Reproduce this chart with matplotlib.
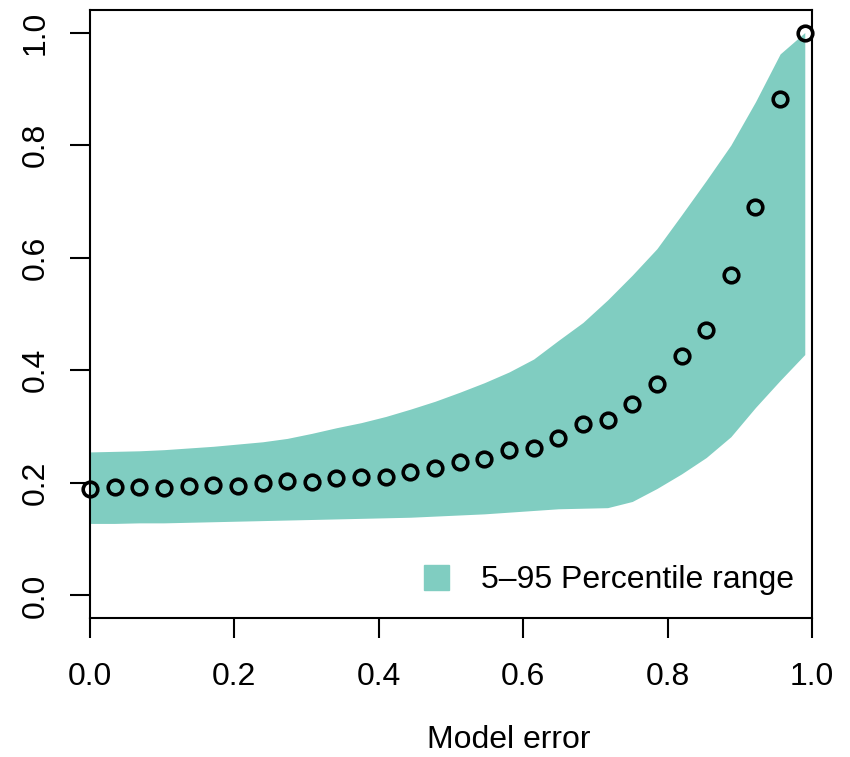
import numpy as np
import matplotlib
matplotlib.use("Agg")
import matplotlib.pyplot as plt
from matplotlib.lines import Line2D

plt.rcParams['font.family'] = ['Liberation Sans', 'DejaVu Sans']
plt.rcParams['font.size'] = 23

# model error grid (30 points from 0 to 0.99)
model_error = np.linspace(0, 0.99, 30)

# observed values (open circles)
observed = [0.190, 0.193, 0.193, 0.191, 0.194, 0.197, 0.195, 0.200, 0.204, 0.202,
            0.208, 0.210, 0.211, 0.220, 0.226, 0.237, 0.242, 0.259, 0.262, 0.279,
            0.304, 0.312, 0.340, 0.375, 0.425, 0.471, 0.569, 0.690, 0.882, 1.000]

# 5th and 95th percentile envelope
pct_low = [0.128, 0.128, 0.129, 0.129, 0.130, 0.131, 0.132, 0.133, 0.134, 0.135,
           0.136, 0.137, 0.138, 0.139, 0.141, 0.143, 0.145, 0.148, 0.151, 0.154,
           0.155, 0.156, 0.167, 0.190, 0.216, 0.245, 0.282, 0.334, 0.382, 0.428]
pct_high = [0.255, 0.256, 0.257, 0.259, 0.262, 0.265, 0.269, 0.273, 0.279, 0.288,
            0.298, 0.307, 0.318, 0.331, 0.345, 0.361, 0.378, 0.397, 0.420, 0.453,
            0.485, 0.525, 0.569, 0.616, 0.676, 0.737, 0.800, 0.877, 0.962, 1.000]

band_col = "#80CDC1"

fig = plt.figure(figsize=(8.5, 7.57), dpi=100)
ax = fig.add_axes([90/850, 1 - 618/757, 722/850, 608/757])

ax.fill_between(model_error, pct_low, pct_high, color=band_col, linewidth=0)
ax.plot(model_error, observed, linestyle='none', marker='o', ms=10.5,
        mfc='none', mec='black', mew=2.6, clip_on=False, zorder=3)

ax.set_xlim(0, 1)
ax.set_ylim(-0.04, 1.04)
ax.set_xticks(np.arange(0, 1.01, 0.2))
ax.set_xticklabels(["0.0", "0.2", "0.4", "0.6", "0.8", "1.0"])
ax.set_yticks(np.arange(0, 1.01, 0.2))
ax.set_yticklabels(["0.0", "0.2", "0.4", "0.6", "0.8", "1.0"], rotation=90, va='center')

for s in ax.spines.values():
    s.set_linewidth(1.5)
ax.tick_params(direction='out', length=14.5, width=1.5, pad=17)
ax.tick_params(axis='y', pad=14)

ax.set_xlabel("Model error")
ax.xaxis.set_label_coords((509 - 90) / 722, (618 - 740) / 608)
ax.xaxis.label.set_va('center')

handle = Line2D([], [], linestyle='none', marker='s', ms=18, color=band_col)
ax.legend([handle], ["5–95 Percentile range"], loc='center right',
          bbox_to_anchor=(0.993, 0.0625), frameon=False, handletextpad=0.9,
          borderaxespad=0, handlelength=1.0)

fig.savefig("out.png", dpi=100)
